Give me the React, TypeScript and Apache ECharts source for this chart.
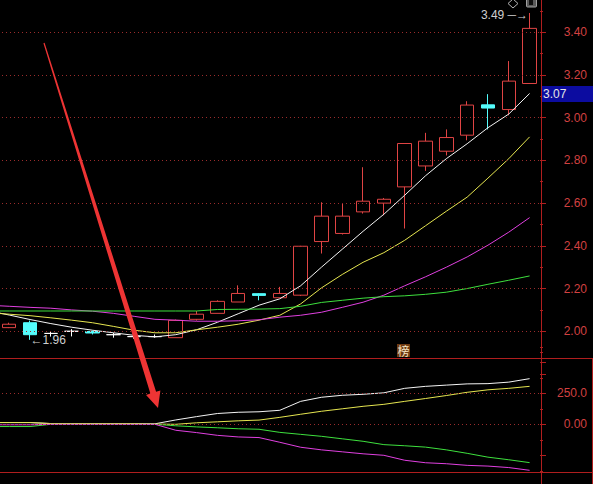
import React, { useEffect, useRef } from 'react';
import * as echarts from 'echarts';

// Trading sessions; the first session is off-screen and only feeds the averages.
const sessions = ['1', '2', '3', '4', '5', '6', '7', '8', '9', '10', '11', '12', '13', '14', '15', '16', '17', '18', '19', '20', '21', '22', '23', '24', '25', '26', '27'];

// OHLC of the 26 visible sessions (sessions 2..27)
const opens = [2.017, 2.04, 1.99, 2.0, 1.999, 1.984, 1.975, 1.975, 1.97, 2.056, 2.084, 2.137, 2.176, 2.157, 2.169, 2.42, 2.458, 2.559, 2.6, 2.676, 2.774, 2.843, 2.918, 3.06, 3.038, 3.16];
const closes = [2.033, 1.984, 1.99, 2.0, 1.992, 1.984, 1.975, 1.975, 2.051, 2.08, 2.14, 2.177, 2.168, 2.177, 2.398, 2.539, 2.539, 2.609, 2.618, 2.879, 2.89, 2.907, 3.059, 3.045, 3.171, 3.418];
const lows = [2.015, 1.96, 1.975, 1.976, 1.985, 1.97, 1.965, 1.97, 1.97, 2.05, 2.084, 2.137, 2.145, 2.157, 2.165, 2.364, 2.453, 2.551, 2.543, 2.481, 2.751, 2.823, 2.894, 2.945, 3.011, 3.16];
const highs = [2.04, 2.05, 2.0, 2.01, 2.003, 1.992, 1.985, 1.985, 2.055, 2.095, 2.145, 2.215, 2.178, 2.208, 2.4, 2.604, 2.598, 2.768, 2.624, 2.88, 2.929, 2.945, 3.077, 3.11, 3.265, 3.49];

// Moving averages (one value per session)
const ma5 = [2.096, 2.076, 2.055, 2.036, 2.019, 2.005, 1.993, 1.981, 1.974, 1.984, 2.007, 2.042, 2.082, 2.122, 2.152, 2.213, 2.3, 2.384, 2.468, 2.548, 2.637, 2.728, 2.808, 2.878, 2.953, 3.017, 3.113];
const ma10 = [2.087, 2.08, 2.073, 2.063, 2.052, 2.04, 2.023, 2.005, 1.993, 1.993, 2.007, 2.019, 2.033, 2.052, 2.075, 2.128, 2.203, 2.266, 2.323, 2.368, 2.426, 2.494, 2.562, 2.628, 2.717, 2.808, 2.91];
const ma20 = [2.122, 2.117, 2.112, 2.108, 2.1, 2.094, 2.084, 2.07, 2.056, 2.052, 2.047, 2.047, 2.049, 2.054, 2.066, 2.075, 2.089, 2.112, 2.136, 2.169, 2.213, 2.255, 2.3, 2.348, 2.403, 2.464, 2.532];
const ma60 = [2.095, 2.095, 2.095, 2.095, 2.095, 2.095, 2.095, 2.095, 2.095, 2.095, 2.095, 2.102, 2.103, 2.104, 2.106, 2.117, 2.135, 2.145, 2.155, 2.162, 2.166, 2.173, 2.183, 2.2, 2.22, 2.239, 2.259];

// Lower indicator lines
const indWhite = [14, 14, 14, 6, 6, 6, 6, 6, 4, 35, 62, 87, 97, 101, 113, 185, 218, 234, 242, 254, 290, 306, 316, 326, 328, 340, 368];
const indYellow = [14, 14, 14, 6, 6, 6, 6, 6, 2, 0, 12, 20, 28, 34, 56, 81, 105, 125, 145, 161, 185, 208, 232, 258, 278, 290, 306];
const indGreen = [-18, -18, -18, 0, 0, 0, 0, 0, 0, -12, -21, -28, -36, -40, -65, -81, -97, -117, -137, -164, -173, -184, -206, -234, -265, -286, -309];
const indMagenta = [-4, -4, -4, 0, 0, 0, 0, 0, 0, -48, -67, -89, -102, -107, -145, -185, -206, -222, -238, -250, -290, -310, -318, -331, -337, -349, -371];

// Axis tick labels
const priceTicks = [2.0, 2.2, 2.4, 2.6, 2.8, 3.0, 3.2, 3.4];
const indTicks = [0, 250];
const cursorPrice = '3.07';

const BG = '#000000';
const FRAME = '#b01e1e';
const GRID_DOT = '#9a2c2c';
const AXIS_TEXT = '#d24040';
const UP = '#e04444';
const DOWN = '#54fcfc';
const FONT = '"Liberation Sans", Arial, sans-serif';

function buildOption(): any {
  const candles: any[] = [['-', '-', '-', '-']];
  for (let i = 0; i < opens.length; i++) {
    candles.push([opens[i], closes[i], lows[i], highs[i]]);
  }
  let maxI = 0;
  let minI = 0;
  for (let i = 0; i < highs.length; i++) {
    if (highs[i] > highs[maxI]) maxI = i;
    if (lows[i] < lows[minI]) minI = i;
  }
  const hi = highs[maxI];
  const lo = lows[minI];

  const dotted = (color: string) => ({ type: [1, 3], color, width: 1 });
  const isTick = (list: number[], v: number) => list.some((t) => Math.abs(t - v) < 1e-6);

  // tapered pointer arrow
  const S = [44, 43];
  const T = [158, 408];
  const dx = T[0] - S[0];
  const dy = T[1] - S[1];
  const len = Math.hypot(dx, dy);
  const u = [dx / len, dy / len];
  const n = [u[1], -u[0]];
  const at = (s: number, w: number) => [S[0] + u[0] * s + n[0] * w, S[1] + u[1] * s + n[1] * w];
  const headS = len - 16;
  const arrowPts = [at(0, -0.6), at(headS, -3), at(headS, -7.5), T, at(headS, 7.5), at(headS, 3), at(0, 0.6)];

  const mainLine = (name: string, data: number[], color: string) => ({
    name,
    type: 'line',
    xAxisIndex: 0,
    yAxisIndex: 0,
    data,
    showSymbol: false,
    symbol: 'none',
    lineStyle: { color, width: 1 },
    z: 4,
    silent: true,
  });
  const lowLine = (name: string, data: number[], color: string, extra: any = {}) => ({
    name,
    type: 'line',
    xAxisIndex: 1,
    yAxisIndex: 1,
    data,
    showSymbol: false,
    symbol: 'none',
    lineStyle: { color, width: 1 },
    z: 4,
    silent: true,
    ...extra,
  });

  return {
    animation: false,
    backgroundColor: BG,
    grid: [
      { left: -22, width: 562, top: -10.5, height: 384.5, containLabel: false, outerBoundsMode: 'none' },
      { left: -22, width: 562, top: 331.3, height: 155, containLabel: false, outerBoundsMode: 'none' },
    ],
    xAxis: [
      { type: 'category', data: sessions, gridIndex: 0, show: false, boundaryGap: true },
      { type: 'category', data: sessions, gridIndex: 1, show: false, boundaryGap: true },
    ],
    yAxis: [
      {
        type: 'value',
        gridIndex: 0,
        position: 'right',
        min: 1.8,
        max: 3.6,
        interval: 0.2,
        axisLine: { show: false },
        axisTick: { show: true, length: 6, lineStyle: { color: FRAME } },
        minorTick: { show: true, splitNumber: 2, length: 3, lineStyle: { color: FRAME } },
        splitLine: { show: false },
        minorSplitLine: { show: false },
        axisLabel: {
          align: 'right',
          margin: 47,
          color: AXIS_TEXT,
          fontSize: 12,
          fontFamily: FONT,
          formatter: (v: number) => (isTick(priceTicks, v) ? v.toFixed(2) : ''),
        },
      },
      {
        type: 'value',
        gridIndex: 1,
        position: 'right',
        min: -500,
        max: 750,
        interval: 250,
        axisLine: { show: false },
        axisTick: { show: true, length: 6, lineStyle: { color: FRAME } },
        minorTick: { show: true, splitNumber: 2, length: 3, lineStyle: { color: FRAME } },
        splitLine: { show: false },
        axisLabel: {
          align: 'right',
          margin: 47,
          color: AXIS_TEXT,
          fontSize: 12,
          fontFamily: FONT,
          formatter: (v: number) => (isTick(indTicks, v) ? (Math.abs(v) >= 100 ? v.toFixed(1) : v.toFixed(2)) : ''),
        },
      },
    ],
    series: [
      {
        name: 'K',
        type: 'candlestick',
        xAxisIndex: 0,
        yAxisIndex: 0,
        data: candles,
        barWidth: 14,
        z: 3,
        silent: true,
        itemStyle: {
          color: 'transparent',
          color0: DOWN,
          borderColor: UP,
          borderColor0: DOWN,
          borderColorDoji: '#ffffff',
          borderWidth: 1,
        },
        markLine: {
          silent: true,
          symbol: ['none', 'none'],
          label: { show: false },
          lineStyle: dotted(GRID_DOT),
          data: priceTicks.map((v) => ({ yAxis: v })),
        },
        markPoint: {
          silent: true,
          symbol: 'circle',
          symbolSize: 1,
          itemStyle: { color: 'transparent' },
          data: [
            {
              coord: [sessions[maxI + 1], hi],
              value: hi,
              label: {
                show: true,
                position: 'left',
                distance: 1,
                offset: [0, 2],
                color: '#cfcfcf',
                fontSize: 12,
                fontFamily: FONT,
                formatter: (p: any) => `${Number(p.value).toFixed(2)} ─→`,
              },
            },
            {
              coord: [sessions[minI + 1], lo],
              value: lo,
              label: {
                show: true,
                position: 'right',
                distance: 0,
                color: '#cfcfcf',
                fontSize: 12,
                fontFamily: FONT,
                formatter: (p: any) => `←${Number(p.value).toFixed(2)}`,
              },
            },
          ],
        },
      },
      mainLine('MA5', ma5, '#f4f4f4'),
      mainLine('MA10', ma10, '#e6e650'),
      mainLine('MA20', ma20, '#e040e0'),
      mainLine('MA60', ma60, '#3ee03e'),
      lowLine('W', indWhite, '#f4f4f4', {
        markLine: {
          silent: true,
          symbol: ['none', 'none'],
          label: { show: false },
          lineStyle: dotted(GRID_DOT),
          data: indTicks.map((v) => ({ yAxis: v })),
        },
      }),
      lowLine('Y', indYellow, '#e6e650'),
      lowLine('G', indGreen, '#3ee03e'),
      lowLine('M', indMagenta, '#e040e0'),
    ],
    graphic: [
      // panel frames
      { type: 'line', z: 50, shape: { x1: 0, y1: 358.5, x2: 593, y2: 358.5 }, style: { stroke: FRAME, lineWidth: 1 } },
      { type: 'line', z: 50, shape: { x1: 0, y1: 472.5, x2: 593, y2: 472.5 }, style: { stroke: FRAME, lineWidth: 1 } },
      { type: 'line', z: 50, shape: { x1: 541.5, y1: 0, x2: 541.5, y2: 484 }, style: { stroke: FRAME, lineWidth: 1 } },
      { type: 'line', z: 50, shape: { x1: 592.5, y1: 358, x2: 592.5, y2: 484 }, style: { stroke: FRAME, lineWidth: 1 } },
      // cursor price readout
      { type: 'rect', z: 60, shape: { x: 542, y: 86, width: 51, height: 16 }, style: { fill: '#0c0ca0' } },
      {
        type: 'text',
        z: 61,
        x: 543,
        y: 94,
        style: { text: cursorPrice, fill: '#e6e6e6', font: `12px ${FONT}`, verticalAlign: 'middle', align: 'left' },
      },
      // badge
      { type: 'rect', z: 60, shape: { x: 397, y: 344, width: 13, height: 13 }, style: { fill: '#6e3a12' } },
      {
        type: 'text',
        z: 61,
        x: 403.5,
        y: 350.5,
        style: { text: '榜', fill: '#f6e6c6', font: '12px "Noto Sans CJK SC"', align: 'center', verticalAlign: 'middle' },
      },
      // toolbar icons
      {
        type: 'polygon',
        z: 60,
        shape: { points: [[513, -1], [518, 3.5], [513, 8], [508, 3.5]] },
        style: { fill: 'none', stroke: '#b4b4b4', lineWidth: 1 },
      },
      { type: 'rect', z: 60, shape: { x: 526.5, y: -3, width: 10, height: 10, r: 1 }, style: { fill: '#5a5a5a', stroke: '#a0a0a0', lineWidth: 1 } },
      { type: 'rect', z: 61, shape: { x: 529, y: -3, width: 4, height: 8 }, style: { fill: '#101010' } },
      // pointer arrow
      { type: 'polygon', z: 80, shape: { points: arrowPts }, style: { fill: '#ee3434' } },
    ],
  };
}

export default function App() {
  const ref = useRef<HTMLDivElement>(null);
  useEffect(() => {
    if (!ref.current) return;
    const chart = echarts.init(ref.current, null, { renderer: 'svg' });
    chart.setOption(buildOption());
    return () => chart.dispose();
  }, []);
  return (
    <div
      ref={ref}
      style={{ position: 'fixed', left: 0, top: 0, width: 593, height: 484, background: BG }}
    />
  );
}
